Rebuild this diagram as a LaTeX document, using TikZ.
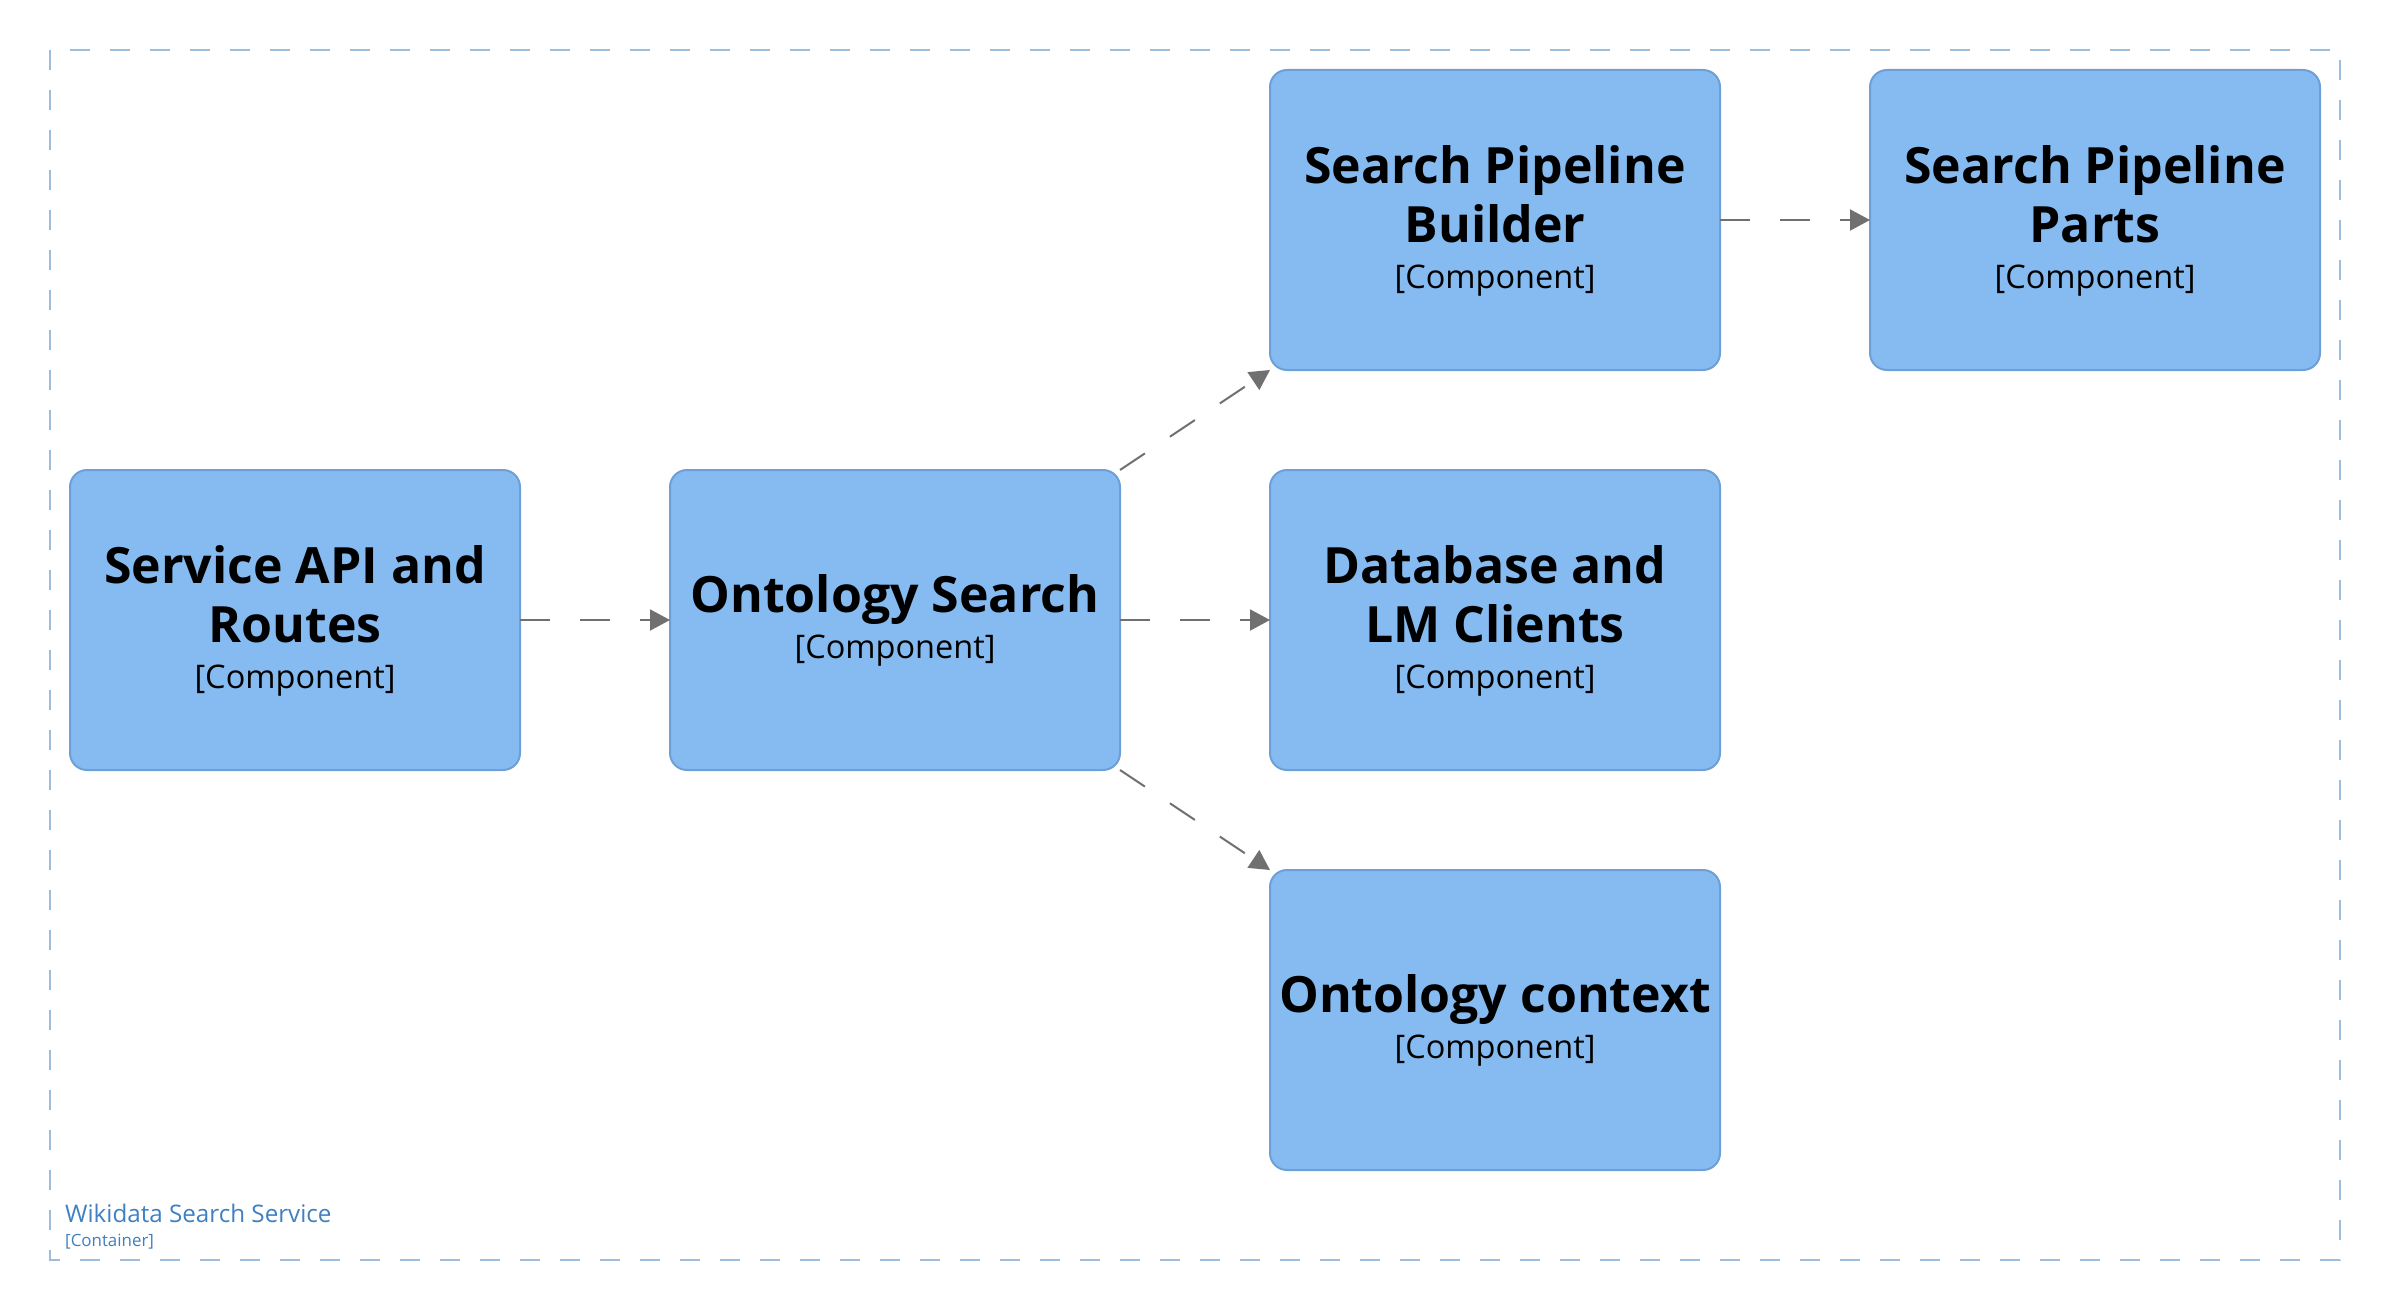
\documentclass[tikz,border=0pt]{standalone}
\usepackage{fontspec}
\setmainfont{Open Sans}
\usetikzlibrary{arrows.meta,calc}
\definecolor{boxfill}{HTML}{85BBF0}
\definecolor{boxline}{HTML}{6E9FD6}
\definecolor{arrowc}{HTML}{707070}
\definecolor{contline}{HTML}{9DBDDD}
\definecolor{conttext}{HTML}{3F80C2}
\begin{document}
\begin{tikzpicture}[x=1pt,y=-1pt,
  comp/.style={draw=boxline, fill=boxfill, line width=2pt, rounded corners=17pt,
    minimum width=450pt, minimum height=300pt, inner sep=0pt, outer sep=0pt, anchor=north west},
  ttl/.style={font=\fontsize{50}{60}\selectfont\bfseries, anchor=base, inner sep=0pt},
  sub/.style={font=\fontsize{32.5}{38}\selectfont, anchor=base, inner sep=0pt},
  rel/.style={draw=arrowc, line width=2pt, dash pattern=on 30pt off 30pt,
    -{Triangle[length=20pt,width=21pt]}},
  clab/.style={anchor=base west, inner sep=0pt, text=conttext}]
\useasboundingbox (0,0) rectangle (2390,1311);
\draw[contline, line width=2pt, dash pattern=on 20pt off 20pt] (50,50) rectangle (2340,1260);

\node[comp] (api) at (70,470) {};
\node[comp] (osearch) at (670,470) {};
\node[comp] (builder) at (1270,70) {};
\node[comp] (parts) at (1870,70) {};
\node[comp] (dbclients) at (1270,470) {};
\node[comp] (ocontext) at (1270,870) {};

\node[ttl] (apit1) at ($(api.center)+(0,-37)$) {Service API and};
\node[ttl] (apit2) at ($(api.center)+(0,22)$) {Routes};
\node[sub] (apis) at ($(api.center)+(0,68)$) {[Component]};

\node[ttl] (ost1) at ($(osearch.center)+(0,-8)$) {Ontology Search};
\node[sub] (oss) at ($(osearch.center)+(0,38)$) {[Component]};

\node[ttl] (bt1) at ($(builder.center)+(0,-37)$) {Search Pipeline};
\node[ttl] (bt2) at ($(builder.center)+(0,22)$) {Builder};
\node[sub] (bs) at ($(builder.center)+(0,68)$) {[Component]};

\node[ttl] (pt1) at ($(parts.center)+(0,-37)$) {Search Pipeline};
\node[ttl] (pt2) at ($(parts.center)+(0,22)$) {Parts};
\node[sub] (ps) at ($(parts.center)+(0,68)$) {[Component]};

\node[ttl] (dt1) at ($(dbclients.center)+(0,-37)$) {Database and};
\node[ttl] (dt2) at ($(dbclients.center)+(0,22)$) {LM Clients};
\node[sub] (ds) at ($(dbclients.center)+(0,68)$) {[Component]};

\node[ttl] (ct1) at ($(ocontext.center)+(0,-8)$) {Ontology context};
\node[sub] (cs) at ($(ocontext.center)+(0,38)$) {[Component]};

\draw[rel] (api.east) -- (osearch.west);
\draw[rel] (osearch.north east) -- (builder.south west);
\draw[rel] (osearch.east) -- (dbclients.west);
\draw[rel] (osearch.south east) -- (ocontext.north west);
\draw[rel] (builder.east) -- (parts.west);

\node[clab, font=\fontsize{24.2}{29}\selectfont] (contname) at (65,1222) {Wikidata Search Service};
\node[clab, font=\fontsize{16.9}{20}\selectfont] (conttype) at (65,1246) {[Container]};
\end{tikzpicture}
\end{document}
